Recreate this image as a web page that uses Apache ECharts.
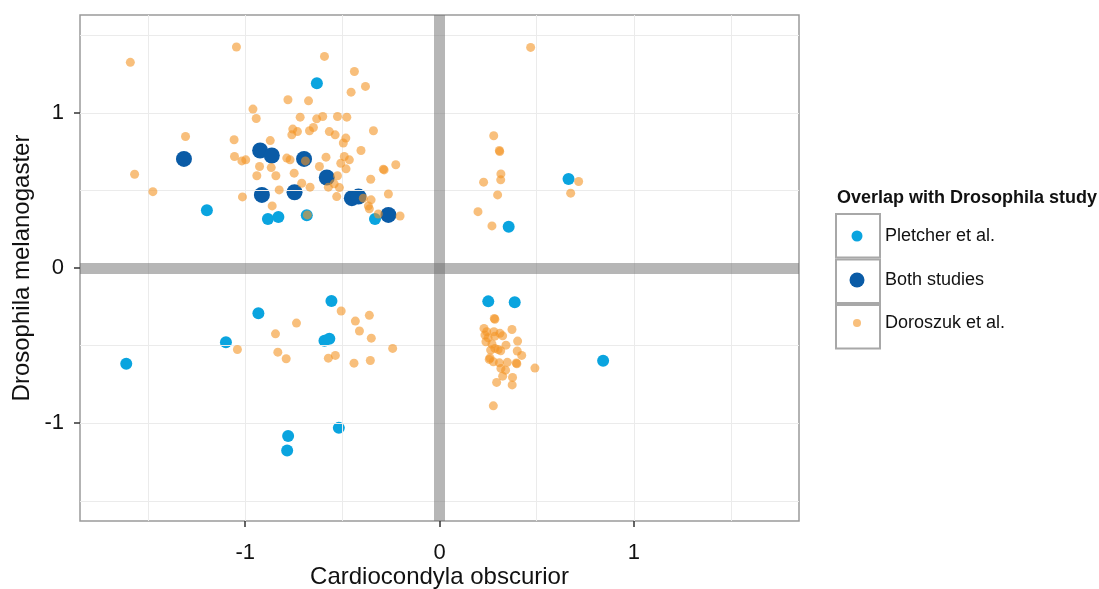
<!DOCTYPE html>
<html><head><meta charset="utf-8">
<script src="https://cdn.jsdelivr.net/npm/echarts@6/dist/echarts.min.js"></script>
<style>html,body{margin:0;padding:0;background:#fff}#c{width:1099px;height:589px}</style>
</head><body><div id="c"></div>
<script>
// ---- data ----
const xTicks = [-1, 0, 1];
const yTicks = [-1, 0, 1];
const gridX = [-1.5, -1, -0.5, 0.5, 1, 1.5];
const gridY = [-1.5, -1, -0.5, 0.5, 1, 1.5];
const zeroLines = [0];
const seriesNames = ['Pletcher et al.', 'Both studies', 'Doroszuk et al.'];

const pletcher = [
  [-0.631,1.19],[-1.197,0.372],[-0.883,0.316],[-0.829,0.329],[-0.683,0.34],[-0.332,0.316],
  [0.356,0.266],[0.664,0.574],
  [-1.612,-0.617],[-1.099,-0.479],[-0.932,-0.292],[-0.556,-0.213],[-0.592,-0.469],[-0.567,-0.456],
  [-0.779,-1.082],[-0.784,-1.176],[-0.518,-1.03],
  [0.251,-0.215],[0.387,-0.221],[0.842,-0.598]
];
const both = [
  [-1.315,0.703],[-0.923,0.757],[-0.863,0.725],[-0.697,0.703],[-0.58,0.583],
  [-0.914,0.471],[-0.746,0.488],[-0.451,0.45],[-0.417,0.46],[-0.263,0.342]
];
const doroszuk = [
  [-1.591,1.325],[-1.045,1.424],[-0.96,1.024],[-0.943,0.963],[-1.307,0.847],[-1.057,0.826],[-0.871,0.821],
  [-1.055,0.718],[-1.017,0.69],[-0.997,0.697],[-0.926,0.654],[-0.866,0.647],[-0.94,0.594],[-1.569,0.604],
  [-1.475,0.492],[-1.014,0.458],[-0.861,0.4],[-0.825,0.503],
  [-0.592,1.363],[-0.438,1.266],[-0.381,1.17],[-0.455,1.133],[-0.78,1.084],[-0.674,1.077],
  [-0.717,0.972],[-0.632,0.961],[-0.601,0.976],[-0.525,0.976],[-0.477,0.972],[-0.34,0.884],
  [-0.755,0.895],[-0.76,0.858],[-0.731,0.879],[-0.669,0.884],[-0.649,0.905],[-0.567,0.879],
  [-0.537,0.858],[-0.482,0.837],[-0.495,0.805],
  [-0.404,0.757],[-0.786,0.708],[-0.769,0.697],[-0.584,0.714],[-0.49,0.718],[-0.464,0.697],
  [-0.508,0.675],[-0.289,0.637],[-0.285,0.632],[-0.225,0.665],[-0.69,0.69],
  [-0.748,0.611],[-0.618,0.654],[-0.481,0.639],[-0.842,0.594],[-0.525,0.594],[-0.354,0.572],
  [-0.709,0.546],[-0.666,0.521],[-0.572,0.521],[-0.542,0.542],[-0.515,0.518],[-0.529,0.46],
  [-0.263,0.477],[-0.352,0.439],[-0.392,0.45],[-0.366,0.4],[-0.361,0.381],[-0.315,0.348],
  [-0.203,0.335],[-0.68,0.342],
  [0.469,1.421],[0.279,0.852],[0.308,0.757],[0.31,0.75],[0.316,0.606],[0.315,0.568],[0.227,0.553],
  [0.299,0.471],[0.198,0.363],[0.27,0.271],[0.716,0.557],[0.675,0.482],
  [-1.04,-0.525],[-0.844,-0.424],[-0.736,-0.355],[-0.832,-0.542],[-0.789,-0.585],[-0.506,-0.277],
  [-0.433,-0.342],[-0.361,-0.305],[-0.412,-0.406],[-0.351,-0.452],[-0.241,-0.518],[-0.572,-0.581],
  [-0.536,-0.563],[-0.44,-0.613],[-0.356,-0.596],
  [0.282,-0.325],[0.285,-0.33],[0.229,-0.389],[0.234,-0.432],[0.239,-0.475],[0.28,-0.411],
  [0.285,-0.439],[0.311,-0.421],[0.325,-0.437],[0.373,-0.396],[0.402,-0.471],[0.342,-0.497],
  [0.263,-0.529],[0.285,-0.518],[0.302,-0.525],[0.315,-0.533],[0.4,-0.535],[0.423,-0.563],
  [0.256,-0.589],[0.26,-0.58],[0.277,-0.604],[0.308,-0.611],[0.349,-0.608],[0.398,-0.617],
  [0.395,-0.612],[0.491,-0.645],[0.316,-0.647],[0.34,-0.658],[0.325,-0.697],[0.376,-0.705],
  [0.374,-0.753],[0.294,-0.737],[0.277,-0.888],[0.243,-0.411],[0.25,-0.45],[0.27,-0.49]
];

// ---- chart ----
const FONT = '"Liberation Sans", Arial, Helvetica, sans-serif';
const chart = echarts.init(document.getElementById('c'), null, {renderer: 'canvas'});
const tickStyle = {color: '#333', width: 1.5};
const KEY_CX = 857, TEXT_X = 885;
function keyLegend(name, d, cy) {
  return {
    left: KEY_CX - d / 2, top: cy - 11, itemWidth: d, itemHeight: d, padding: 0, icon: 'circle',
    selectedMode: false, data: [name],
    textStyle: {fontSize: 18, color: '#111', fontFamily: FONT, lineHeight: 22,
                padding: [0, 0, 0, TEXT_X - (KEY_CX + d / 2) - 5]}
  };
}

const option = {
  animation: false,
  backgroundColor: '#fff',
  title: {
    text: 'Overlap with Drosophila study', left: 837, top: 189, padding: 0,
    textStyle: {fontSize: 18, fontWeight: 'bold', color: '#111', fontFamily: FONT}
  },
  grid: {left: 80, right: 300, top: 15, bottom: 68, show: true, containLabel: false,
         outerBoundsMode: 'none',
         borderColor: '#9a9a9a', borderWidth: 1.5, backgroundColor: '#fff'},
  xAxis: {
    type: 'value', min: -1.85, max: 1.85, position: 'bottom',
    name: 'Cardiocondyla obscurior', nameLocation: 'middle', nameGap: 44, nameMoveOverlap: false,
    nameTextStyle: {fontSize: 24, color: '#111', fontFamily: FONT},
    axisLine: {show: false, onZero: false}, splitLine: {show: false},
    axisTick: {show: true, inside: false, customValues: xTicks, length: 6, lineStyle: tickStyle},
    axisLabel: {customValues: xTicks, fontSize: 22, color: '#111', margin: 21, fontFamily: FONT}
  },
  yAxis: {
    type: 'value', min: -1.63, max: 1.63, position: 'left',
    name: 'Drosophila melanogaster', nameLocation: 'middle', nameGap: 46, nameRotate: 90,
    nameMoveOverlap: false,
    nameTextStyle: {fontSize: 24, color: '#111', fontFamily: FONT},
    axisLine: {show: false, onZero: false}, splitLine: {show: false},
    axisTick: {show: true, inside: false, customValues: yTicks, length: 6, lineStyle: tickStyle},
    axisLabel: {customValues: yTicks, fontSize: 22, color: '#111', margin: 16, fontFamily: FONT}
  },
  legend: [
    {left: 835, top: 213, orient: 'vertical', itemGap: 0, itemWidth: 44, itemHeight: 43.5,
     padding: 0, icon: 'rect', selectedMode: false, data: seriesNames,
     itemStyle: {color: '#fff', borderColor: '#a8a8a8', borderWidth: 2, opacity: 1},
     formatter: function () { return ' '; }, textStyle: {fontSize: 1}},
    keyLegend(seriesNames[0], 11, 236),
    keyLegend(seriesNames[1], 15, 280),
    keyLegend(seriesNames[2], 8, 323)
  ],
  series: [
    {name: 'grid', type: 'scatter', data: [], z: 1, silent: true,
     markLine: {silent: true, symbol: ['none', 'none'], label: {show: false}, animation: false,
       lineStyle: {color: '#ebebeb', width: 1, type: 'solid'},
       emphasis: {disabled: true},
       data: gridX.map(v => ({xAxis: v})).concat(gridY.map(v => ({yAxis: v})))}},
    {name: 'zero', type: 'scatter', data: [], z: 2, silent: true,
     markLine: {silent: true, symbol: ['none', 'none'], label: {show: false}, animation: false,
       lineStyle: {color: 'rgba(110,110,110,0.5)', width: 11, type: 'solid'},
       emphasis: {disabled: true},
       data: zeroLines.map(v => ({xAxis: v})).concat(zeroLines.map(v => ({yAxis: v})))}},
    {name: seriesNames[0], type: 'scatter', data: pletcher, symbolSize: 12, z: 3,
     itemStyle: {color: '#0aa4df', opacity: 1}},
    {name: seriesNames[1], type: 'scatter', data: both, symbolSize: 16, z: 4,
     itemStyle: {color: '#0a5ba6', opacity: 1}},
    {name: seriesNames[2], type: 'scatter', data: doroszuk, symbolSize: 9, z: 5,
     itemStyle: {color: '#f39424', opacity: 0.6}}
  ]
};
chart.setOption(option);
</script>
</body></html>
